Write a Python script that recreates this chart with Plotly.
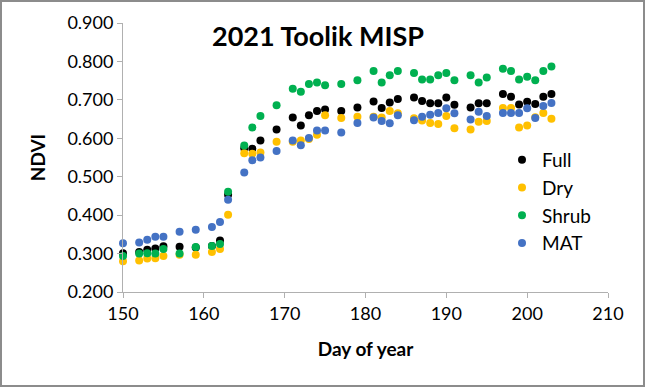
import plotly.graph_objects as go

days = [150, 152, 153, 154, 155, 157, 159, 161, 162, 163, 165, 166, 167, 169,
        171, 172, 173, 174, 175, 177, 179, 181, 182, 183, 184, 186, 187, 188,
        189, 190, 191, 193, 194, 195, 197, 198, 199, 200, 201, 202, 203]

full = [0.301, 0.304, 0.310, 0.313, 0.319, 0.318, 0.316, 0.320, 0.334, 0.453, 0.574, 0.573, 0.594, 0.623,
        0.654, 0.633, 0.660, 0.671, 0.675, 0.671, 0.680, 0.696, 0.679, 0.693, 0.702, 0.706, 0.697, 0.691,
        0.691, 0.706, 0.687, 0.680, 0.691, 0.691, 0.715, 0.708, 0.688, 0.695, 0.689, 0.708, 0.715]

dry = [0.280, 0.282, 0.287, 0.288, 0.294, 0.297, 0.297, 0.304, 0.312, 0.401, 0.561, 0.560, 0.563, 0.591,
       0.591, 0.594, 0.598, 0.609, 0.660, 0.653, 0.656, 0.656, 0.654, 0.671, 0.665, 0.652, 0.646, 0.640,
       0.637, 0.658, 0.626, 0.623, 0.643, 0.645, 0.679, 0.679, 0.628, 0.633, 0.655, 0.666, 0.651]

shrub = [0.294, 0.300, 0.301, 0.300, 0.312, 0.300, 0.317, 0.320, 0.325, 0.461, 0.581, 0.628, 0.658, 0.686,
         0.729, 0.721, 0.741, 0.745, 0.738, 0.741, 0.751, 0.775, 0.745, 0.764, 0.775, 0.770, 0.753, 0.753,
         0.764, 0.770, 0.751, 0.764, 0.745, 0.758, 0.781, 0.775, 0.753, 0.760, 0.751, 0.775, 0.787]

mat = [0.327, 0.329, 0.336, 0.344, 0.344, 0.357, 0.362, 0.369, 0.382, 0.440, 0.511, 0.543, 0.550, 0.567,
       0.594, 0.582, 0.601, 0.620, 0.620, 0.615, 0.640, 0.654, 0.645, 0.639, 0.660, 0.647, 0.656, 0.661,
       0.666, 0.678, 0.665, 0.649, 0.669, 0.658, 0.666, 0.666, 0.666, 0.678, 0.653, 0.684, 0.692]

series = [("Full", full, "#000000"), ("Dry", dry, "#FFC000"),
          ("Shrub", shrub, "#00B050"), ("MAT", mat, "#4472C4")]

FONT = "Lato"
fig = go.Figure()
for name, vals, col in series:
    fig.add_trace(go.Scatter(x=days, y=vals, mode="markers", name=name,
                             marker=dict(color=col, size=8, line=dict(width=0)),
                             cliponaxis=False))

W, H = 645, 387
L, R, T, B = 123, 37, 23, 95
pw, ph = W - L - R, H - T - B

def px(x):
    return (x - L) / pw

def py(y):
    return 1 - (y - T) / ph

fig.update_layout(
    width=W, height=H, autosize=False,
    margin=dict(l=L, r=R, t=T, b=B),
    paper_bgcolor="white", plot_bgcolor="white",
    font=dict(family=FONT, color="#000000", size=18),
    showlegend=True,
    legend=dict(x=px(502), y=py(141), xanchor="left", yanchor="top",
                bgcolor="rgba(0,0,0,0)", font=dict(size=19, family=FONT),
                itemwidth=30, tracegroupgap=0),
    xaxis=dict(range=[150, 210], dtick=10, tick0=150, showgrid=False, zeroline=False,
               showline=True, linecolor="#B0B0B0", linewidth=1,
               ticks="outside", ticklen=5, tickcolor="#B0B0B0",
               tickfont=dict(size=18, family=FONT),
               title=dict(text="<b>Day of year</b>", font=dict(size=19, family=FONT), standoff=20)),
    yaxis=dict(range=[0.2, 0.9], dtick=0.1, tick0=0.2, tickformat=".3f", showgrid=False,
               zeroline=False, showline=True, linecolor="#B0B0B0", linewidth=1,
               ticks="outside", ticklen=5, tickcolor="#B0B0B0",
               tickfont=dict(size=18, family=FONT),
               title=dict(text="<b>NDVI</b>", font=dict(size=19, family=FONT), standoff=16)),
    annotations=[dict(text="<b>2021 Toolik MISP</b>", xref="paper", yref="paper",
                      x=px(318), y=py(35), xanchor="center", yanchor="middle",
                      showarrow=False, font=dict(size=27, family=FONT))],
    shapes=[dict(type="rect", xref="paper", yref="paper",
                 x0=px(1), x1=px(644), y0=py(386), y1=py(1),
                 line=dict(color="#8C8C8C", width=2), fillcolor="rgba(0,0,0,0)")],
)

fig.write_html("out.html", config={"displayModeBar": False},
               post_script="document.body.style.margin='0';document.body.style.overflow='hidden';")
